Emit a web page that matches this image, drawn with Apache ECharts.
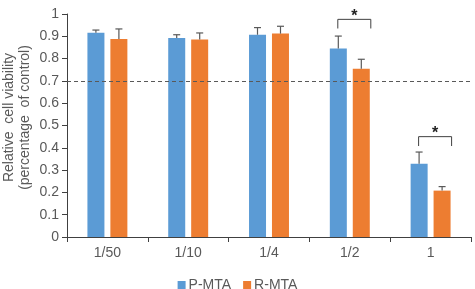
<!DOCTYPE html>
<html><head><meta charset="utf-8">
<script src="https://cdn.jsdelivr.net/npm/echarts@6/dist/echarts.min.js"></script>
<style>html,body{margin:0;padding:0;background:#fff}#c{width:475px;height:289px}</style>
</head><body><div id="c"></div>
<script>
const categories = ['1/50', '1/10', '1/4', '1/2', '1'];
const pMta = [0.916, 0.892, 0.907, 0.845, 0.329];
const rMta = [0.888, 0.886, 0.912, 0.755, 0.208];
const pErr = [0.012, 0.015, 0.032, 0.056, 0.052];
const rErr = [0.045, 0.029, 0.033, 0.042, 0.018];
const sigCats = [3, 4];
const sigTop = [0.976, 0.45];
const sigLeg = [0.935, 0.408];
const yTicks = { min: 0, max: 1, interval: 0.1 };
const threshold = 0.7;

const FONT = 'Liberation Sans, Arial, sans-serif';
const BLUE = '#5B9BD5', ORANGE = '#ED7D31', ERR = '#595959';

function errSeries(vals, errs, offset) {
  return {
    type: 'custom',
    silent: true,
    z: 5,
    data: vals.map((v, i) => [i, v, v + errs[i]]),
    renderItem: function (params, api) {
      const base = api.coord([api.value(0), api.value(1)]);
      const top = api.coord([api.value(0), api.value(2)]);
      const x = base[0] + offset;
      return {
        type: 'group',
        children: [
          { type: 'line', shape: { x1: x, y1: base[1], x2: x, y2: top[1] }, style: { stroke: ERR, lineWidth: 1.2 } },
          { type: 'line', shape: { x1: x - 3.5, y1: top[1], x2: x + 3.5, y2: top[1] }, style: { stroke: ERR, lineWidth: 1.2 } }
        ]
      };
    }
  };
}

const chart = echarts.init(document.getElementById('c'));
chart.setOption({
  animation: false,
  textStyle: { fontFamily: FONT },
  grid: { left: 67, right: 4, top: 14, bottom: 52, containLabel: false, outerBoundsMode: 'none' },
  legend: {
    data: ['P-MTA', 'R-MTA'],
    top: 273,
    left: 'center',
    icon: 'rect',
    itemWidth: 8,
    itemHeight: 8,
    itemGap: 12,
    textStyle: { fontFamily: FONT, fontSize: 14, color: '#595959', padding: [0, 0, 0, -2] }
  },
  xAxis: {
    type: 'category',
    data: categories,
    axisLine: { lineStyle: { color: '#404040', width: 1 } },
    axisTick: { show: true, length: 5, lineStyle: { color: '#404040' } },
    axisLabel: { fontFamily: FONT, fontSize: 14, color: '#595959', margin: 9 },
    splitLine: { show: false }
  },
  yAxis: {
    type: 'value',
    min: yTicks.min, max: yTicks.max, interval: yTicks.interval,
    name: 'Relative  cell viability\n(percentage  of control)',
    nameLocation: 'middle',
    nameRotate: 90,
    nameGap: 34,
    nameMoveOverlap: false,
    nameTextStyle: { fontFamily: FONT, fontSize: 14, color: '#595959', lineHeight: 16, padding: [0, 0, 0, 16] },
    axisLine: { show: true, lineStyle: { color: '#404040', width: 1 } },
    axisTick: { show: true, length: 5, lineStyle: { color: '#404040' } },
    axisLabel: { fontFamily: FONT, fontSize: 14, color: '#595959', margin: 8 },
    splitLine: { show: false }
  },
  series: [
    {
      name: 'P-MTA', type: 'bar', data: pMta, barWidth: 17, barGap: '35%',
      itemStyle: { color: BLUE },
      markLine: {
        silent: true, symbol: ['none', 'none'], label: { show: false },
        lineStyle: { color: '#595959', type: [4, 3], width: 1 },
        data: [{ yAxis: threshold }]
      }
    },
    { name: 'R-MTA', type: 'bar', data: rMta, barWidth: 17, itemStyle: { color: ORANGE } },
    errSeries(pMta, pErr, -11.5),
    errSeries(rMta, rErr, 11.5),
    {
      type: 'custom',
      silent: true,
      z: 6,
      data: sigCats.map((c, i) => [c, sigTop[i], sigLeg[i]]),
      renderItem: function (params, api) {
        const top = api.coord([api.value(0), api.value(1)]);
        const leg = api.coord([api.value(0), api.value(2)]);
        const x1 = top[0] - 12, x2 = top[0] + 21;
        return {
          type: 'group',
          children: [
            { type: 'polyline', shape: { points: [[x1, leg[1]], [x1, top[1]], [x2, top[1]], [x2, leg[1]]] }, style: { stroke: '#404040', lineWidth: 1, fill: null } },
            { type: 'text', style: { text: '*', x: (x1 + x2) / 2, y: top[1] - 3, align: 'center', verticalAlign: 'middle', fontFamily: FONT, fontSize: 16, fontWeight: 'bold', fill: '#222' } }
          ]
        };
      }
    }
  ]
});
</script></body></html>
